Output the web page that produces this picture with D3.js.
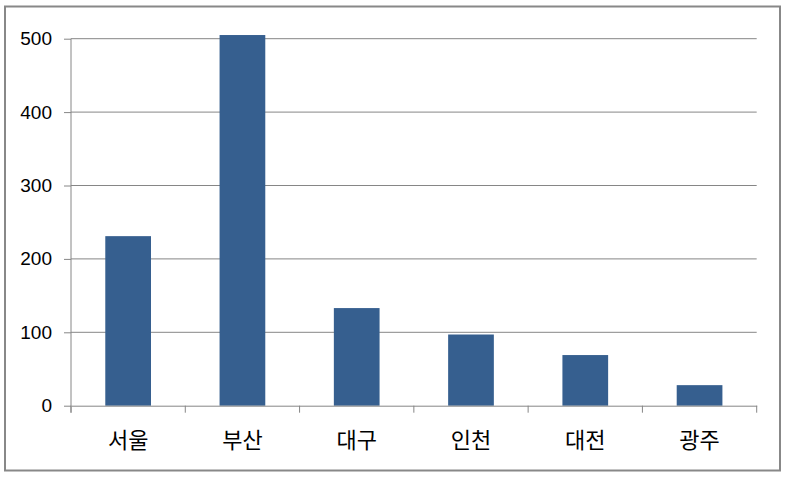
<!DOCTYPE html>
<html>
<head>
<meta charset="utf-8">
<script src="https://cdn.jsdelivr.net/npm/d3@7"></script>
<style>
  body { margin: 0; background: #fff; }
  svg { display: block; }
</style>
</head>
<body>
<svg width="787" height="478"></svg>
<script>
const cities = ['서울', '부산', '대구', '인천', '대전', '광주'];
const values = [231, 505, 133, 97, 69, 28];
const yTicks = [0, 100, 200, 300, 400, 500];

const svg = d3.select('svg');
const m = { top: 38.7, left: 71, right: 30.3, bottom: 72.3 };
const width = 787 - m.left - m.right;
const height = 478 - m.top - m.bottom;

// outer frame
svg.append('rect')
  .attr('x', 5).attr('y', 6.5)
  .attr('width', 775).attr('height', 464)
  .attr('fill', '#fff')
  .attr('stroke', '#888').attr('stroke-width', 2);

const g = svg.append('g').attr('transform', `translate(${m.left}, ${m.top})`);

const x = d3.scaleBand().domain(cities).range([0, width]).paddingInner(0.6).paddingOuter(0.3);
const xCat = d3.scaleBand().domain(cities).range([0, width]);
const y = d3.scaleLinear().domain([0, 500]).range([height, 0]);

// gridlines
g.append('g')
  .selectAll('line')
  .data(yTicks.slice(1))
  .join('line')
  .attr('x1', 0).attr('x2', width)
  .attr('y1', d => y(d)).attr('y2', d => y(d))
  .attr('stroke', '#868686').attr('stroke-width', 1);

// bars
g.append('g')
  .selectAll('rect')
  .data(values)
  .join('rect')
  .attr('x', (d, i) => x(cities[i]))
  .attr('width', x.bandwidth())
  .attr('y', d => y(d))
  .attr('height', d => y(0) - y(d))
  .attr('fill', '#365f8f');

// y axis
const yAxis = g.append('g')
  .call(d3.axisLeft(y).tickValues(yTicks).tickSize(7).tickPadding(12));
yAxis.select('.domain').attr('stroke', '#868686').attr('d', `M0,${height + 7}V0`);
yAxis.selectAll('.tick line').attr('stroke', '#868686');
yAxis.selectAll('text')
  .attr('fill', '#000')
  .style('font-family', '"Liberation Sans", Arial, sans-serif')
  .style('font-size', '19px');

// x axis
const xAxis = g.append('g')
  .attr('transform', `translate(0, ${height})`)
  .call(d3.axisBottom(xCat).tickSize(0).tickPadding(27));
xAxis.select('.domain').attr('stroke', '#868686');
xAxis.selectAll('text')
  .attr('fill', '#000')
  .style('font-family', '"Noto Sans CJK KR", sans-serif')
  .style('font-size', '22px');

// category boundary ticks
g.append('g')
  .selectAll('line')
  .data(d3.range(cities.length + 1))
  .join('line')
  .attr('x1', i => i * xCat.step()).attr('x2', i => i * xCat.step())
  .attr('y1', height).attr('y2', height + 7)
  .attr('stroke', '#868686');
</script>
</body>
</html>
